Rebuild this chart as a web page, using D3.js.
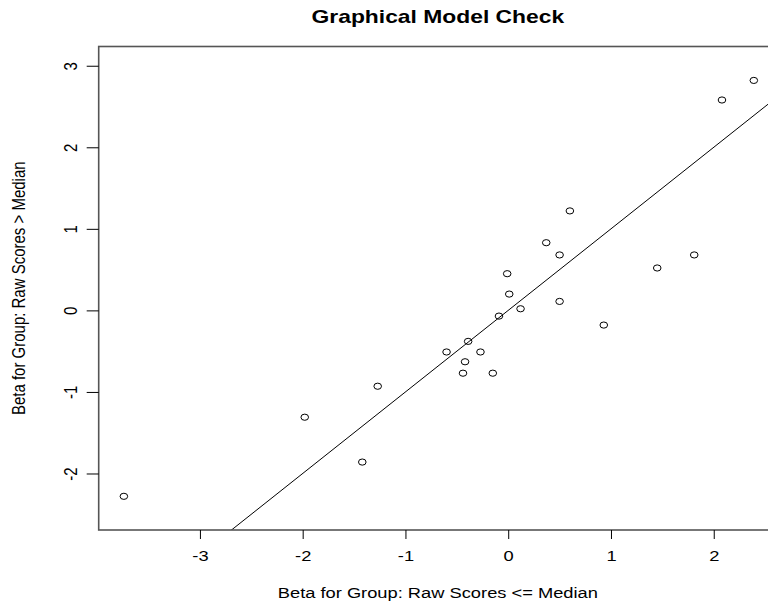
<!DOCTYPE html>
<html><head><meta charset="utf-8">
<script src="https://cdn.jsdelivr.net/npm/d3@7"></script>
<style>body{margin:0;background:#fff}svg{display:block}text{font-family:"Liberation Sans",Arial,sans-serif}</style>
</head><body>
<svg id="c" width="768" height="603"></svg>
<script>
const xVals = [-3.74,-1.98,-1.27,-1.42,-0.60,-0.39,-0.42,-0.44,-0.27,-0.15,-0.09,0.01,-0.01,0.12,0.37,0.50,0.50,0.60,0.93,1.45,1.81,2.08,2.39];
const yVals = [-2.28,-1.31,-0.93,-1.86,-0.51,-0.38,-0.63,-0.77,-0.51,-0.77,-0.07,0.20,0.45,0.02,0.83,0.68,0.11,1.22,-0.18,0.52,0.68,2.58,2.82];
const xTicks = [-3,-2,-1,0,1,2];
const yTicks = [-2,-1,0,1,2,3];
const refLine = {intercept:0, slope:1};
const title = "Graphical Model Check";
const xLabel = "Beta for Group: Raw Scores <= Median";
const yLabel = "Beta for Group: Raw Scores > Median";

const SX = 1.22; // horizontal stretch of text in the reference
const fmt = d => String(d); // plain hyphen minus
const svg = d3.select("#c");
const L=98.7, R=779, T=46.5, B=530;
const x = d3.scaleLinear().domain([-3.985,2.635]).range([L,R]);
const y = d3.scaleLinear().domain([-2.693,3.236]).range([B,T]);

svg.append("defs").append("clipPath").attr("id","clip").append("rect").attr("x",L).attr("y",T).attr("width",R-L).attr("height",B-T);

const xd = x.domain();
svg.append("line").attr("clip-path","url(#clip)")
  .attr("x1",x(xd[0])).attr("y1",y(refLine.intercept+refLine.slope*xd[0]))
  .attr("x2",x(xd[1])).attr("y2",y(refLine.intercept+refLine.slope*xd[1]))
  .attr("stroke","#000").attr("stroke-width",1);

svg.append("g").selectAll("ellipse").data(xVals.map((v,i)=>[v,yVals[i]])).join("ellipse")
  .attr("cx",d=>x(d[0])).attr("cy",d=>y(d[1])).attr("rx",3.8).attr("ry",3.1)
  .attr("fill","none").attr("stroke","#000").attr("stroke-width",1);

svg.append("rect").attr("x",L).attr("y",T).attr("width",R-L).attr("height",B-T)
  .attr("fill","none").attr("stroke","#555").attr("stroke-width",1.6);

const xa = svg.append("g").attr("transform",`translate(0,${B})`)
  .call(d3.axisBottom(x).tickValues(xTicks).tickSize(9).tickFormat(fmt));
xa.select(".domain").remove();
xa.selectAll(".tick text").remove();
xa.selectAll(".tick").append("text")
  .attr("transform",`translate(0,31) scale(${SX},1)`).attr("text-anchor","middle")
  .attr("font-size",15).attr("fill","#000").text(fmt);

const ya = svg.append("g").attr("transform",`translate(${L},0)`)
  .call(d3.axisLeft(y).tickValues(yTicks).tickSize(12).tickFormat(fmt));
ya.select(".domain").remove();
ya.selectAll(".tick text").remove();
ya.selectAll(".tick").append("text")
  .attr("transform",`translate(-28,0) scale(${SX},1) rotate(-90)`).attr("text-anchor","middle").attr("dy","0.35em")
  .attr("font-size",15).attr("fill","#000").text(fmt);

svg.append("text").attr("transform",`translate(${(L+R)/2-1},23) scale(1.27,1)`).attr("text-anchor","middle")
  .attr("font-size",18).attr("font-weight","bold").text(title);
svg.append("text").attr("transform",`translate(${(L+R)/2-1},598) scale(${SX},1)`).attr("text-anchor","middle")
  .attr("font-size",15).text(xLabel);
svg.append("text").attr("transform",`translate(25,${(T+B)/2}) scale(${SX},1) rotate(-90)`).attr("text-anchor","middle")
  .attr("font-size",15).text(yLabel);
</script>
</body></html>
